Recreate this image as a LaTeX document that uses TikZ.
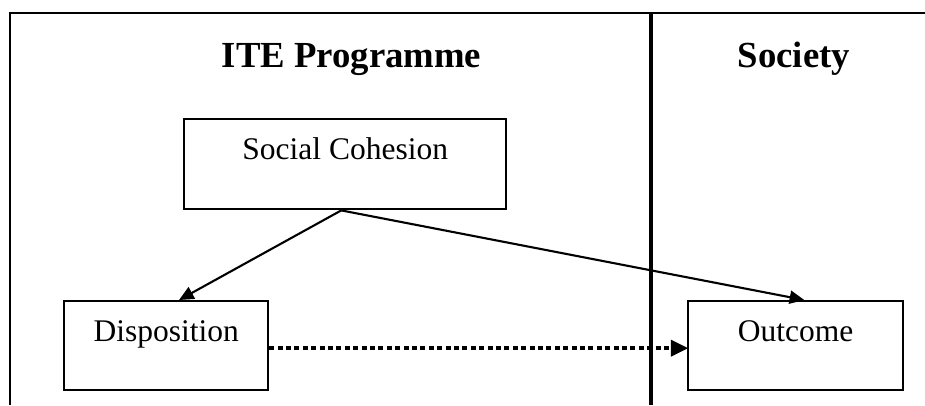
\documentclass[tikz,border=0pt]{standalone}
\usepackage{fontspec}
\setmainfont{Liberation Serif}
\usetikzlibrary{arrows.meta}

\tikzset{
  box/.style={draw, line width=0.9pt, rectangle, anchor=north west,
    inner xsep=0pt, inner ysep=0pt, text height=15.2pt, text depth=18.6pt,
    font=\fontsize{12pt}{14pt}\selectfont},
  heading/.style={anchor=base, inner sep=0pt,
    font=\fontsize{14pt}{17pt}\selectfont\bfseries},
  frame/.style={line width=0.8pt},
  divider/.style={line width=1.15pt},
  link/.style={line width=0.8pt, -{Triangle[length=5.6pt, width=5pt]}},
  dotlink/.style={line width=1.5pt, dash pattern=on 1.9pt off 1.3pt,
    -{Triangle[length=6.6pt, width=6pt]}, shorten >=-0.5pt}
}

\begin{document}
\begin{tikzpicture}[x=0.381pt, y=-0.381pt]
  \useasboundingbox (0,0) rectangle (925,405);

  % outer frame: top rule and left rule, column divider
  \coordinate (tl) at (10,13);
  \coordinate (tr) at (925,13);
  \coordinate (bl) at (10,405);
  \coordinate (dtop) at (651,13);
  \coordinate (dbot) at (651,405);
  \draw[frame] (tr) -- (tl) -- (bl);
  \draw[divider] (dtop) -- (dbot);

  % column headings
  \node[heading] (ite) at (351.5,67) {ITE Programme};
  \node[heading] (soc) at (794,67) {Society};

  % boxes
  \node[box, minimum width=122.7pt, text height=15.2pt, text depth=19.1pt]
    (sc) at (183,118) {Social Cohesion};
  \node[box, minimum width=77.7pt] (disp) at (63,300) {Disposition};
  \node[box, minimum width=81.9pt] (out) at (687,300) {Outcome};

  % connectors
  \draw[link] ([xshift=-1.5pt]sc.south) -- ([xshift=4.9pt]disp.north);
  \draw[link] ([xshift=-1.5pt]sc.south) -- ([xshift=3.3pt]out.north);
  \draw[dotlink] ([yshift=-1pt]disp.east) -- ([yshift=-1pt]out.west);
\end{tikzpicture}
\end{document}
